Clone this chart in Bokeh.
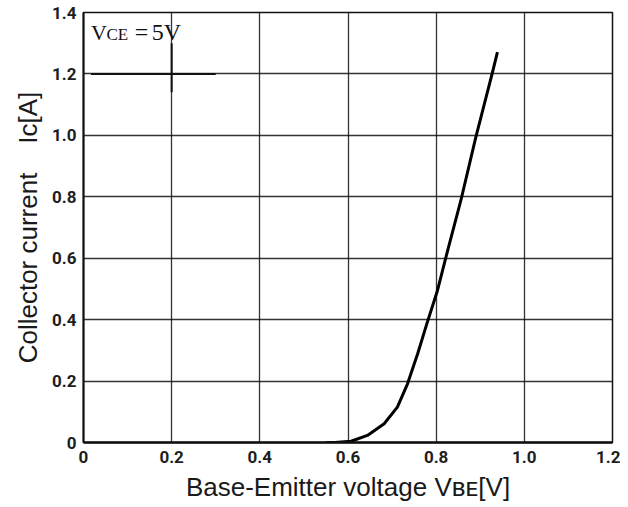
import math
from bokeh.plotting import figure
from bokeh.models import Range1d, FixedTicker, Label
from bokeh.embed import file_html
from bokeh.resources import INLINE

# ---- data ----
vbe = [0.55, 0.57, 0.607, 0.644, 0.682, 0.712, 0.735, 0.758, 0.780, 0.803,
       0.826, 0.856, 0.890, 0.927, 0.939]
ic = [0.0, 0.0, 0.004, 0.023, 0.061, 0.115, 0.191, 0.289, 0.392, 0.495,
      0.625, 0.788, 0.994, 1.201, 1.271]

x_ticks = [0, 0.2, 0.4, 0.6, 0.8, 1.0, 1.2]
x_tick_labels = ["0", "0.2", "0.4", "0.6", "0.8", "1.0", "1.2"]
y_ticks = [0, 0.2, 0.4, 0.6, 0.8, 1.0, 1.2, 1.4]
y_tick_labels = ["0", "0.2", "0.4", "0.6", "0.8", "1.0", "1.2", "1.4"]

x_title = "Base-Emitter voltage V\u0299\u1d07[V]"
y_title = "Collector current\u00a0\u00a0\u00a0\u00a0Ic[A]"

# darker scan marks near the top-left (cross at 0.2 / 1.2)
mark_x0 = [0.2, 0.017]
mark_y0 = [1.30, 1.2]
mark_x1 = [0.2, 0.30]
mark_y1 = [1.14, 1.2]

p = figure(width=620, height=504, output_backend="svg", toolbar_location=None,
           x_range=Range1d(0, 1.2), y_range=Range1d(0, 1.4),
           min_border_left=83, min_border_right=8, min_border_top=12,
           min_border_bottom=58, background_fill_color="white",
           border_fill_color="white")

p.outline_line_color = "#111111"
p.outline_line_width = 1.5

for ax, ticks, labels, stand in ((p.xaxis[0], x_ticks, x_tick_labels, 8),
                                 (p.yaxis[0], y_ticks, y_tick_labels, 7)):
    ax.ticker = FixedTicker(ticks=ticks)
    ax.major_label_overrides = {float(t): l for t, l in zip(ticks, labels)}
    ax.major_tick_in = 0
    ax.major_tick_out = 0
    ax.minor_tick_in = 0
    ax.minor_tick_out = 0
    ax.major_label_standoff = stand
    ax.major_label_text_font = "Roboto"
    ax.major_label_text_font_style = "bold"
    ax.major_label_text_font_size = "17px"
    ax.major_label_text_color = "#1e1e1e"
    ax.axis_line_color = "#111111"
    ax.axis_label_text_font = "Liberation Sans"
    ax.axis_label_text_font_style = "normal"
    ax.axis_label_text_font_size = "26px"
    ax.axis_label_text_color = "#1a1a1a"

p.xaxis.axis_label = x_title
p.yaxis.axis_label = y_title
p.xaxis.axis_label_standoff = 6
p.yaxis.axis_label_standoff = 6

p.xaxis.axis_line_width = 2.5
p.yaxis.axis_line_width = 2

p.xgrid.ticker = FixedTicker(ticks=x_ticks)
p.ygrid.ticker = FixedTicker(ticks=y_ticks)
for g in (p.xgrid[0], p.ygrid[0]):
    g.grid_line_color = "#111111"
    g.grid_line_width = 1.3
    g.grid_line_alpha = 0.85

p.segment(x0=mark_x0, y0=mark_y0, x1=mark_x1, y1=mark_y1,
          line_color="#111111", line_width=2)

p.line(vbe, ic, line_color="black", line_width=3)

# condition label (inside the frame)
serif = "Liberation Serif"
for lx, ly, txt, fs in ((0.017, 1.335, "V", "22px"),
                        (0.052, 1.330, "CE", "17px"),
                        (0.116, 1.335, "=", "24px"),
                        (0.155, 1.335, "5V", "24px")):
    p.add_layout(Label(x=lx, y=ly, text=txt, text_align="left",
                       text_baseline="alphabetic", text_font=serif,
                       text_font_size=fs, text_color="#111111"))

open("out.html", "w").write(file_html(p, INLINE))
